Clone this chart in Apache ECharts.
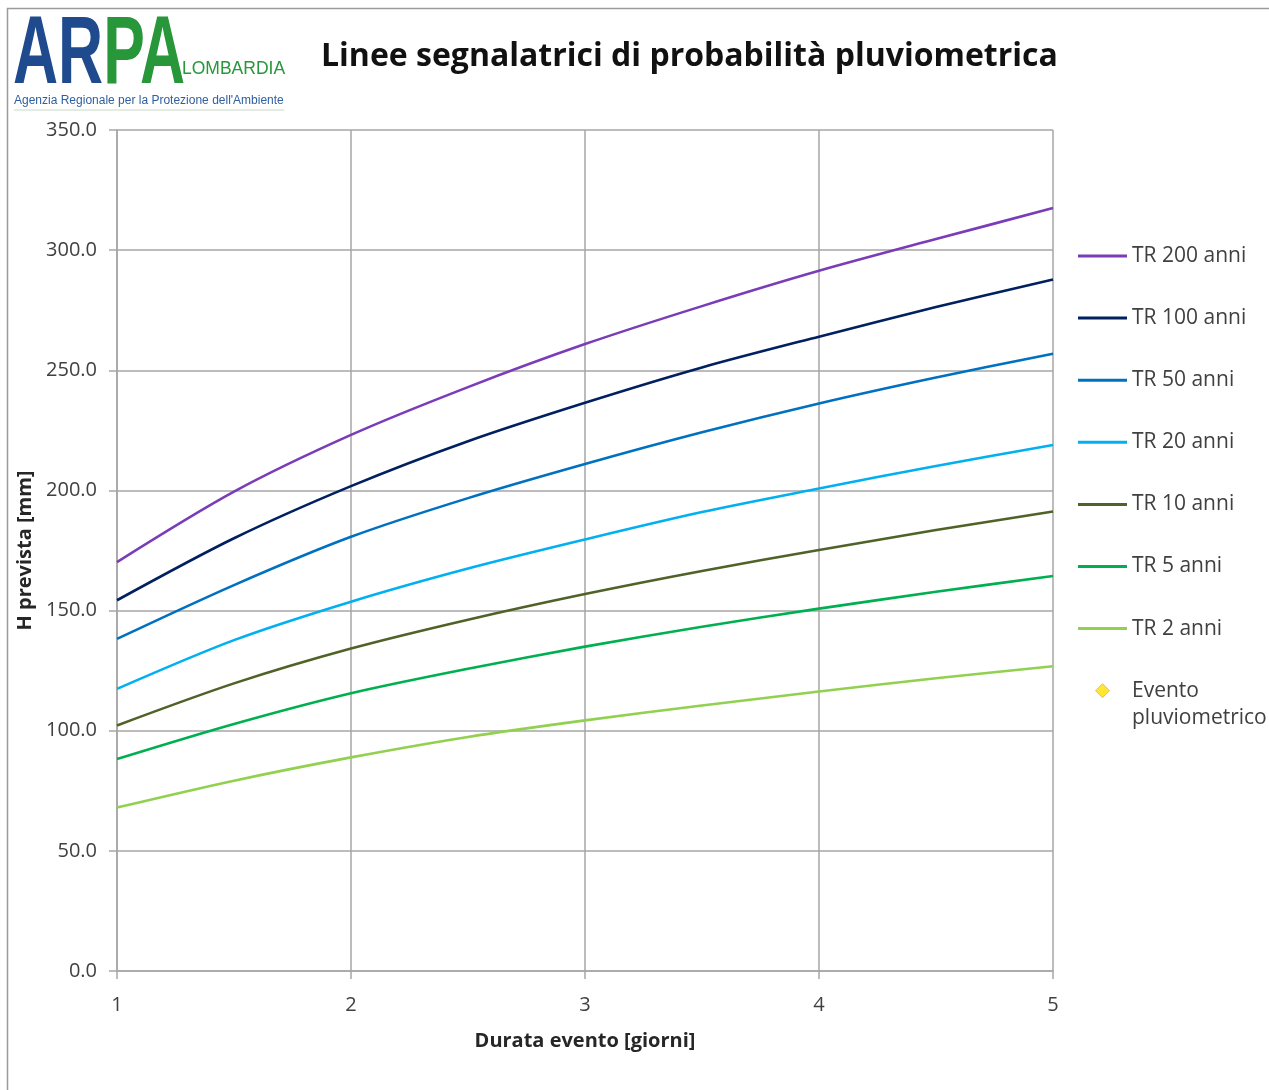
<!DOCTYPE html>
<html>
<head>
<meta charset="utf-8">
<script src="https://cdn.jsdelivr.net/npm/echarts@6/dist/echarts.min.js"></script>
<style>
html,body{margin:0;padding:0;background:#fff;}
#c{width:1269px;height:1090px;}
</style>
</head>
<body>
<div id="c"></div>
<script>
// Durations [giorni]
const durations = [1, 1.5, 2, 2.5, 3, 3.5, 4, 4.5, 5];
// H prevista [mm]
const tr200 = [170.2, 199.5, 223.1, 243.0, 260.9, 276.7, 291.4, 304.6, 317.5];
const tr100 = [154.3, 180.1, 201.8, 220.5, 236.5, 251.2, 264.0, 276.3, 287.8];
const tr50  = [138.2, 160.6, 180.7, 196.8, 211.0, 224.2, 236.2, 247.0, 256.9];
const tr20  = [117.4, 137.7, 153.7, 167.5, 179.6, 191.0, 200.8, 210.2, 218.9];
const tr10  = [102.2, 119.7, 134.2, 146.2, 156.9, 166.5, 175.2, 183.5, 191.2];
const tr5   = [88.2, 102.8, 115.6, 125.8, 135.0, 143.3, 150.8, 157.8, 164.4];
const tr2   = [68.0, 79.2, 88.9, 97.4, 104.3, 110.5, 116.3, 121.8, 126.8];
const evento = [];
const seriesNames = ['TR 200 anni','TR 100 anni','TR 50 anni','TR 20 anni','TR 10 anni','TR 5 anni','TR 2 anni'];
const seriesValues = [tr200, tr100, tr50, tr20, tr10, tr5, tr2];
const seriesColors = ['#7B3CB8','#002060','#0070C0','#00B0F0','#4F6228','#00B050','#92D050'];
const eventoName = 'Evento pluviometrico';
const xTicks = [1, 2, 3, 4, 5];
const yTicks = [0, 50, 100, 150, 200, 250, 300, 350];

const FONT = '"Open Sans", "Noto Sans", sans-serif';
const LINE_ICON = 'path://M0,0H49V3H0Z';
const DIAMOND_ICON = 'path://M5,0L10,5L5,10L0,5Z';
const chart = echarts.init(document.getElementById('c'), null, {renderer:'canvas'});

const series = seriesNames.map((n, i) => ({
  name: n,
  type: 'line',
  smooth: 0.3,
  symbol: 'none',
  data: durations.map((d, j) => [d, seriesValues[i][j]]),
  lineStyle: {width: 2.6, color: seriesColors[i]},
  itemStyle: {color: seriesColors[i]},
  z: 10 - i
}));
series.push({
  name: eventoName,
  type: 'scatter',
  symbol: 'diamond',
  symbolSize: 12,
  data: evento,
  itemStyle: {color: '#FFE000', borderColor: '#F0A070', borderWidth: 1}
});

const legendData = seriesNames.map(n => ({name: n, icon: LINE_ICON}));
legendData.push({name: eventoName, icon: DIAMOND_ICON, itemStyle: {color: '#FFE000', borderColor: '#F0A070', borderWidth: 1}});

chart.setOption({
  animation: false,
  backgroundColor: '#fff',
  grid: {left: 117, right: 216, top: 130, bottom: 119, containLabel: false},
  xAxis: {
    type: 'value', min: xTicks[0], max: xTicks[xTicks.length-1], interval: 1,
    name: 'Durata evento [giorni]', nameLocation: 'middle', nameGap: 60,
    nameTextStyle: {fontFamily: FONT, fontWeight: 'bold', fontSize: 20, color: '#262626'},
    axisLine: {lineStyle: {color: '#a6a6a6', width: 1.5}},
    axisTick: {show: true, length: 8, lineStyle: {color: '#a6a6a6', width: 1.5}},
    axisLabel: {fontFamily: FONT, fontSize: 20, color: '#404040', margin: 24},
    splitLine: {show: true, lineStyle: {color: '#a6a6a6', width: 1.5}}
  },
  yAxis: {
    type: 'value', min: yTicks[0], max: yTicks[yTicks.length-1], interval: 50,
    name: 'H prevista [mm]', nameLocation: 'middle', nameGap: 80,
    nameTextStyle: {fontFamily: FONT, fontWeight: 'bold', fontSize: 20, color: '#262626'},
    axisLine: {show: true, lineStyle: {color: '#a6a6a6', width: 1.5}},
    axisTick: {show: true, length: 8, lineStyle: {color: '#a6a6a6', width: 1.5}},
    axisLabel: {fontFamily: FONT, fontSize: 20, color: '#404040', margin: 20,
      formatter: v => v.toFixed(1)},
    splitLine: {show: true, lineStyle: {color: '#a6a6a6', width: 1.5}}
  },
  legend: {
    orient: 'vertical', left: 1078, top: 242, padding: 0,
    itemWidth: 49, itemHeight: 14, itemGap: 34.1,
    symbolKeepAspect: true,
    data: legendData,
    formatter: n => n === eventoName ? 'Evento' : n,
    textStyle: {fontFamily: FONT, fontSize: 21, color: '#404040', lineHeight: 28}
  },
  series: series,
  graphic: [
    {type: 'polyline', shape: {points: [[7.5, 1090], [7.5, 8.5], [1269, 8.5]]},
      style: {stroke: '#9a9a9a', lineWidth: 1.5, fill: null}, silent: true},
    {type: 'text', left: 321, top: 41,
      style: {text: 'Linee segnalatrici di probabilità pluviometrica', font: 'bold 32px ' + FONT, fill: '#111'}},
    {type: 'text', x: 13, y: 9, scaleX: 0.65,
      style: {x: 0, y: 0, text: '{b|AR}{g|PA}', verticalAlign: 'top', rich: {
        b: {font: 'bold 96px "Liberation Sans", sans-serif', fill: '#1F4B8E'},
        g: {font: 'bold 96px "Liberation Sans", sans-serif', fill: '#27973A'}
      }}},
    {type: 'text', left: 182, top: 60,
      style: {text: 'LOMBARDIA', font: '17.5px "Liberation Sans", sans-serif', fill: '#27973A'}},
    {type: 'text', left: 14, top: 95,
      style: {text: "Agenzia Regionale per la Protezione dell'Ambiente", font: '12px "Liberation Sans Narrow", "Liberation Sans", sans-serif', fill: '#2F5F9E'}},
    {type: 'line', shape: {x1: 14, y1: 110, x2: 284, y2: 110}, style: {stroke: '#c8d8c8', lineWidth: 1}},
    {type: 'text', left: 1132, top: 708,
      style: {text: 'pluviometrico', font: '21px ' + FONT, fill: '#404040'}}
  ]
});
</script>
</body>
</html>
